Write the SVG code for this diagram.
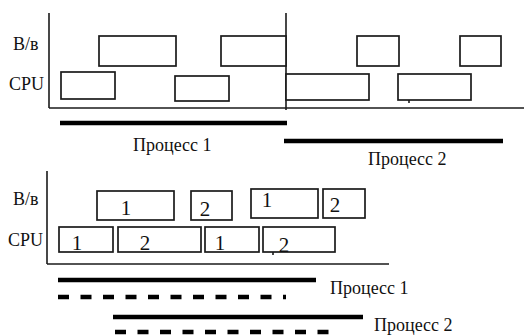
<svg xmlns="http://www.w3.org/2000/svg" width="524" height="336" viewBox="0 0 524 336">
  <style>
    text { font-family: 'Liberation Serif', 'DejaVu Serif', serif; fill: #111; }
    .lbl { font-size: 18px; }
    .num { font-size: 21px; text-anchor: middle; }
    .box { fill: #fff; stroke: #1a1a1a; stroke-width: 1.7; }
    .axis { stroke: #1a1a1a; stroke-width: 1.6; fill: none; }
    .run { stroke: #000; stroke-width: 4.5; fill: none; }
    .dash { stroke: #000; stroke-width: 4.5; fill: none; stroke-dasharray: 11 11.5; }
  </style>

  <!-- Sequential execution -->
  <g id="seq-axes">
    <line class="axis" x1="49" y1="13" x2="49" y2="108"/>
    <line class="axis" x1="49" y1="108" x2="524" y2="108"/>
    <line class="axis" x1="286" y1="13" x2="286" y2="110"/>
    <line class="axis" x1="409" y1="100" x2="409" y2="103"/>
  </g>
  <g id="seq-labels">
    <text class="lbl" x="13" y="50">В/в</text>
    <text class="lbl" x="9" y="90">CPU</text>
  </g>
  <g id="seq-io">
    <rect class="box" x="99" y="36" width="77" height="30"/>
    <rect class="box" x="221" y="36" width="65" height="30"/>
    <rect class="box" x="357" y="36" width="42" height="30"/>
    <rect class="box" x="460" y="36" width="41" height="30"/>
  </g>
  <g id="seq-cpu">
    <rect class="box" x="61" y="72" width="54" height="27"/>
    <rect class="box" x="175" y="76" width="54" height="25"/>
    <rect class="box" x="286" y="74" width="83" height="26"/>
    <rect class="box" x="398" y="74" width="73" height="26"/>
  </g>
  <g id="seq-process-1">
    <line class="run" x1="60" y1="123" x2="287" y2="123"/>
    <text class="lbl" x="133" y="151">Процесс 1</text>
  </g>
  <g id="seq-process-2">
    <line class="run" x1="284" y1="141" x2="503" y2="141"/>
    <text class="lbl" x="368" y="165">Процесс 2</text>
  </g>

  <!-- Interleaved execution -->
  <g id="mp-axes">
    <line class="axis" x1="47" y1="171" x2="47" y2="264"/>
    <line class="axis" x1="47" y1="264" x2="389" y2="264"/>
    <line class="axis" x1="273" y1="252" x2="273" y2="255"/>
  </g>
  <g id="mp-labels">
    <text class="lbl" x="13" y="205">В/в</text>
    <text class="lbl" x="8" y="246">CPU</text>
  </g>
  <g id="mp-io">
    <rect class="box" x="97" y="191" width="77" height="29"/>
    <text class="num" x="126" y="215">1</text>
    <rect class="box" x="191" y="191" width="41" height="29"/>
    <text class="num" x="205" y="216">2</text>
    <rect class="box" x="251" y="189" width="67" height="29"/>
    <text class="num" x="267" y="207">1</text>
    <rect class="box" x="323" y="189" width="42" height="29"/>
    <text class="num" x="335" y="212">2</text>
  </g>
  <g id="mp-cpu">
    <rect class="box" x="59" y="227" width="54" height="25"/>
    <text class="num" x="77" y="250">1</text>
    <rect class="box" x="118" y="227" width="83" height="25"/>
    <text class="num" x="145" y="250">2</text>
    <rect class="box" x="205" y="227" width="54" height="25"/>
    <text class="num" x="220" y="250">1</text>
    <rect class="box" x="263" y="227" width="72" height="25"/>
    <text class="num" x="284" y="252">2</text>
  </g>
  <g id="mp-process-1">
    <line class="run" x1="58" y1="280" x2="316" y2="280"/>
    <line class="dash" x1="58" y1="297" x2="286" y2="297"/>
    <text class="lbl" x="330" y="294">Процесс 1</text>
  </g>
  <g id="mp-process-2">
    <line class="run" x1="113" y1="317" x2="363" y2="317"/>
    <line class="dash" x1="115" y1="332" x2="333" y2="332"/>
    <text class="lbl" x="374" y="331">Процесс 2</text>
  </g>
</svg>
